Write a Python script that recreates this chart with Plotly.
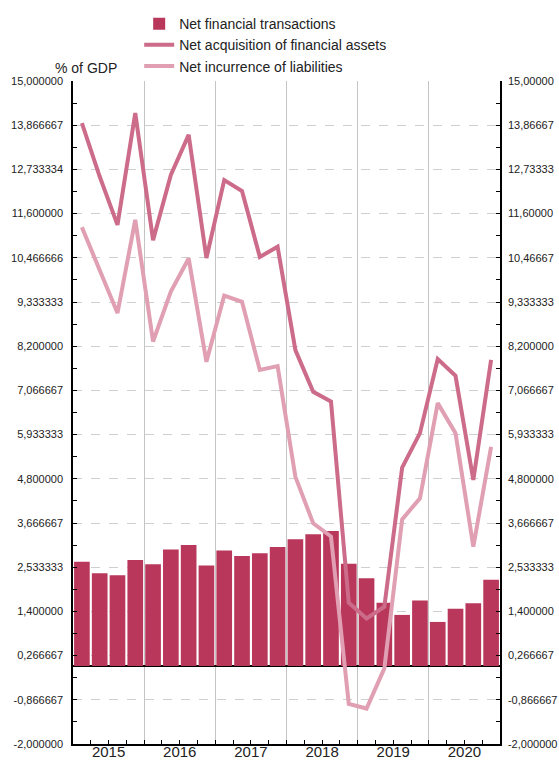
import plotly.graph_objects as go

quarters = [f"{y}Q{q}" for y in range(2015, 2021) for q in range(1, 5)]
years = ["2015", "2016", "2017", "2018", "2019", "2020"]

net_transactions = [2.67, 2.38, 2.33, 2.72, 2.61, 2.99, 3.10, 2.58, 2.96, 2.82, 2.89, 3.05,
                    3.25, 3.38, 3.46, 2.62, 2.25, 1.62, 1.31, 1.68, 1.13, 1.47, 1.61, 2.21]
net_assets = [13.92, 12.55, 11.31, 14.18, 10.92, 12.59, 13.62, 10.46, 12.46, 12.18, 10.49, 10.75,
              8.10, 7.03, 6.78, 1.62, 1.22, 1.52, 5.09, 5.97, 7.87, 7.44, 4.77, 7.85]
net_liabilities = [11.25, 10.13, 9.05, 11.44, 8.32, 9.60, 10.45, 7.80, 9.50, 9.34, 7.59, 7.69,
                   4.85, 3.66, 3.32, -0.97, -1.09, -0.06, 3.76, 4.30, 6.74, 5.97, 3.06, 5.62]

y_ticks = [15.0, 13.866667, 12.733334, 11.6, 10.466666, 9.333333, 8.2, 7.066667, 5.933333,
           4.8, 3.666667, 2.533333, 1.4, 0.266667, -0.866667, -2.0]
y_left_labels = ["15,000000", "13,866667", "12,733334", "11,600000", "10,466666", "9,333333",
                 "8,200000", "7,066667", "5,933333", "4,800000", "3,666667", "2,533333",
                 "1,400000", "0,266667", "-0,866667", "-2,000000"]
y_right_labels = ["15,00000", "13,86667", "12,73333", "11,60000", "10,46667", "9,333333",
                  "8,200000", "7,066667", "5,933333", "4,800000", "3,666667", "2,533333",
                  "1,400000", "0,266667", "-0,866667", "-2,000000"]

BAR = "#b8375a"
ASSETS = "#cc6b8a"
LIAB = "#e09fb3"
FONT = "Liberation Sans, Arial, sans-serif"

xidx = list(range(len(quarters)))
minor_y = [(y_ticks[i] + y_ticks[i + 1]) / 2 for i in range(len(y_ticks) - 1)]

fig = go.Figure()
fig.add_trace(go.Bar(x=xidx, y=net_transactions, name="Net financial transactions",
                     marker=dict(color=BAR, line=dict(width=0)), hovertext=quarters))
fig.add_trace(go.Scatter(x=xidx, y=net_assets, name="Net acquisition of financial assets",
                         mode="lines", line=dict(color=ASSETS, width=4), hovertext=quarters))
fig.add_trace(go.Scatter(x=xidx, y=net_liabilities, name="Net incurrence of liabilities",
                         mode="lines", line=dict(color=LIAB, width=4), hovertext=quarters))
# empty helper traces so the overlay axes (year labels, right scale) get drawn
fig.add_trace(go.Scatter(x=[None], y=[None], xaxis="x2", yaxis="y", showlegend=False,
                         hoverinfo="skip", mode="lines"))
fig.add_trace(go.Scatter(x=[None], y=[None], xaxis="x", yaxis="y2", showlegend=False,
                         hoverinfo="skip", mode="lines"))

boundaries = [-0.5 + 4 * k for k in range(7)]
centers = [1.5 + 4 * k for k in range(6)]

fig.update_layout(
    width=559, height=761,
    margin=dict(l=73, r=59, t=81, b=17, autoexpand=False),
    paper_bgcolor="white", plot_bgcolor="white",
    font=dict(family=FONT, size=11, color="#222222"),
    bargap=0.12,
    showlegend=True,
    legend=dict(x=0.155, xanchor="left", y=1.110, yanchor="top",
                font=dict(size=14, color="#222222"), itemwidth=30,
                tracegroupgap=0, bgcolor="rgba(0,0,0,0)"),
    xaxis=dict(range=[-0.5, 23.5], tickmode="array", tickvals=boundaries,
               ticktext=[""] * len(boundaries), ticks="inside", ticklen=7,
               tickcolor="black", showticklabels=False,
               showgrid=True, gridcolor="#c4c4c4", gridwidth=1,
               showline=True, linecolor="black", linewidth=1.5, zeroline=False,
               minor=dict(tick0=-0.5, dtick=1, ticks="inside", ticklen=4,
                          tickcolor="black", showgrid=False)),
    xaxis2=dict(range=[-0.5, 23.5], overlaying="x", anchor="free", position=0.004,
                side="bottom",
                tickmode="array", tickvals=centers, ticktext=years, ticks="",
                showgrid=False, showline=False, zeroline=False,
                tickfont=dict(size=15, color="#222222"), ticklabelstandoff=0),
    yaxis=dict(range=[-2, 15], tickmode="array", tickvals=y_ticks, ticktext=y_left_labels,
               ticks="inside", ticklen=4, tickcolor="black",
               showgrid=True, gridcolor="#cfcfcf", griddash="dash", gridwidth=1,
               showline=True, linecolor="black", linewidth=1.5,
               zeroline=True, zerolinecolor="black", zerolinewidth=1.5,
               ticklabelstandoff=6,
               minor=dict(tickvals=minor_y, ticks="inside", ticklen=4,
                          tickcolor="black", showgrid=False)),
    yaxis2=dict(range=[-2, 15], overlaying="y", side="right", anchor="x",
                tickmode="array", tickvals=y_ticks, ticktext=y_right_labels,
                ticks="inside", ticklen=4, tickcolor="black",
                showgrid=False, showline=True, linecolor="black", linewidth=1.5,
                zeroline=False, ticklabelstandoff=4,
                minor=dict(tickvals=minor_y, ticks="inside", ticklen=4,
                           tickcolor="black", showgrid=False)),
    annotations=[dict(text="% of GDP", xref="paper", yref="paper", x=0.108, y=1.0,
                      xanchor="right", yanchor="bottom", yshift=3, showarrow=False,
                      font=dict(size=14, color="#222222"))],
)

fig.write_html("out.html", config={"displayModeBar": False},
               post_script="document.body.style.margin='0';document.body.style.overflow='hidden';")
